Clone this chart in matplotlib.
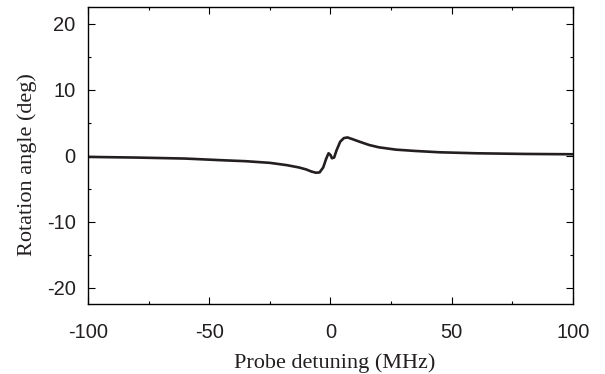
import numpy as np
import matplotlib.pyplot as plt
from matplotlib.ticker import MultipleLocator

plt.rcParams['axes.unicode_minus'] = False
plt.rcParams['font.family'] = 'Liberation Sans'

## Values
detuning = [-100, -80, -60, -45, -35, -25, -18, -13, -10, -8, -6, -4.5, -3,
            -1.8, -0.8, 0, 0.6, 1.5, 2.5, 4, 5.5, 7, 9, 12, 16, 20, 27, 35,
            45, 60, 80, 100]
rotation = [-0.2, -0.3, -0.45, -0.7, -0.85, -1.1, -1.45, -1.8, -2.1, -2.4,
            -2.6, -2.55, -1.8, -0.5, 0.35, 0.1, -0.4, -0.3, 0.8, 2.1, 2.65,
            2.75, 2.5, 2.1, 1.6, 1.25, 0.9, 0.7, 0.5, 0.35, 0.25, 0.2]

x_ticks = [-100, -50, 0, 50, 100]
y_ticks = [-20, -10, 0, 10, 20]

fig = plt.figure(figsize=(6.05, 3.74), dpi=100)
ax = fig.add_axes([0.1455, 0.187, 0.8015, 0.794])

ax.plot(detuning, rotation, color='#231f20', lw=1.9, solid_joinstyle='round')

ax.set_xlim(-100, 100)
ax.set_ylim(-22.5, 22.5)
ax.set_xticks(x_ticks)
ax.set_yticks(y_ticks)
ax.xaxis.set_minor_locator(MultipleLocator(25))
ax.yaxis.set_minor_locator(MultipleLocator(5))
ax.tick_params(which='both', direction='in', top=True, right=True,
               labelsize=14.5, width=0.8, labelcolor='#231f20')
ax.tick_params(axis='x', which='both', pad=13.5)
ax.tick_params(axis='y', which='both', pad=9)
ax.tick_params(which='major', length=5)
ax.tick_params(which='minor', length=2.5)
for s in ax.spines.values():
    s.set_linewidth(1.0)

ax.set_xlabel('Probe detuning (MHz)', family='Liberation Serif', fontsize=16,
              color='#231f20')
ax.set_ylabel('Rotation angle (deg)', family='Liberation Serif', fontsize=16,
              color='#231f20')
ax.xaxis.set_label_coords(0.509, -0.165)
ax.yaxis.set_label_coords(-0.106, 0.47)

fig.savefig('out.png', dpi=100)
